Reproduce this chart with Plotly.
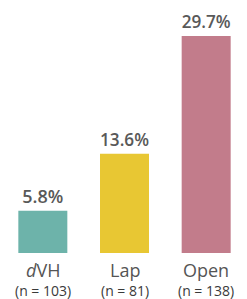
import plotly.graph_objects as go

categories = ["dVH", "Lap", "Open"]
cat_labels = ["<i>d</i>VH", "Lap", "Open"]
n_labels = ["(n = 103)", "(n = 81)", "(n = 138)"]
values = [5.8, 13.6, 29.7]
colors = ["#6db3aa", "#e8c733", "#c27c8b"]

fig = go.Figure(go.Bar(
    x=categories, y=values,
    marker=dict(color=colors, line=dict(width=0)),
    text=[f"{v:.1f}%" for v in values],
    textposition="outside",
    textfont=dict(family="Open Sans", size=18, color="#595959", weight=600),
    cliponaxis=False,
))
for c, lab, n in zip(categories, cat_labels, n_labels):
    fig.add_annotation(x=c, xref="x", y=0, yref="paper", yanchor="top", yshift=-4,
                       text=lab, showarrow=False, borderpad=0,
                       font=dict(family="Open Sans", size=18, color="#555"))
    fig.add_annotation(x=c, xref="x", y=0, yref="paper", yanchor="top", yshift=-27,
                       text=n, showarrow=False, borderpad=0,
                       font=dict(family="Open Sans", size=14, color="#3a3a3a", weight=500))
fig.update_layout(
    width=247, height=299,
    margin=dict(l=2, r=0, t=20, b=46, autoexpand=False),
    plot_bgcolor="white", paper_bgcolor="white",
    bargap=0.4, showlegend=False,
    xaxis=dict(showticklabels=False, showline=False, showgrid=False, ticks="", automargin=False),
    yaxis=dict(range=[0, 31.9], visible=False, automargin=False),
)
fig.write_html("out.html", config={"displayModeBar": False},
               post_script="document.body.style.margin='0';")
